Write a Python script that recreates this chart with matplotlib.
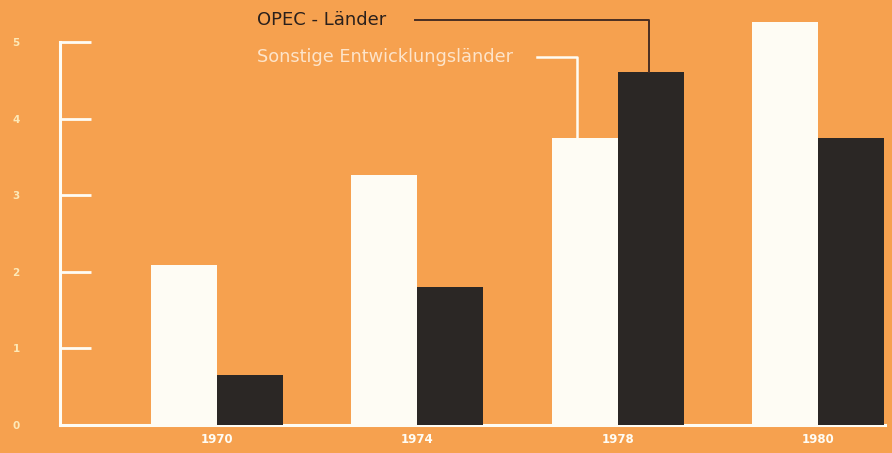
import matplotlib.pyplot as plt
import numpy as np

years = ["1970", "1974", "1978", "1980"]
sonstige = [2.09, 3.26, 3.75, 5.26]   # Sonstige Entwicklungsländer
opec = [0.65, 1.80, 4.61, 3.75]       # OPEC-Länder
yticks = [0, 1, 2, 3, 4, 5]

bg = "#F6A14F"
white = "#FEFCF4"
dark = "#2B2725"
tick_col = "#FDE9B8"

fig = plt.figure(figsize=(8.92, 4.53), dpi=100, facecolor=bg)
ax = fig.add_axes([60 / 892, 28 / 453, (885 - 60) / 892, (425 - 42) / 453])
ax.set_facecolor(bg)

x = np.arange(len(years))
w = 0.33
ax.bar(x - w / 2, sonstige, width=w, color=white, clip_on=False, zorder=3)
ax.bar(x + w / 2, opec, width=w, color=dark, clip_on=False, zorder=3)

ax.set_xlim(-0.784, 3.335)
ax.set_ylim(0, 5)

for s in ["top", "right"]:
    ax.spines[s].set_visible(False)
for s in ["left", "bottom"]:
    ax.spines[s].set_color(white)
    ax.spines[s].set_linewidth(2.2)

ax.set_yticks(yticks)
ax.set_yticklabels([str(v) for v in yticks], color=tick_col, fontsize=7.5,
                   fontweight="bold")
ax.tick_params(axis="y", direction="in", length=22, width=2, color=white, pad=29)
ax.set_xticks(x)
ax.set_xticklabels(years, color=white, fontsize=8.5, fontweight="bold")
ax.tick_params(axis="x", length=0, pad=6)

# Leader lines and series labels
i = 2
y_opec = 5.29
ax.plot([0.99, i + w / 2 - 0.01, i + w / 2 - 0.01], [y_opec, y_opec, opec[i]],
        color="#4a2e22", lw=1.4, clip_on=False, zorder=4)
ax.text(0.20, y_opec, "OPEC - Länder", color="#2a201c", fontsize=13,
        va="center", ha="left", clip_on=False)

y_son = 4.80
ax.plot([1.60, i - w / 2 - 0.04, i - w / 2 - 0.04], [y_son, y_son, sonstige[i]],
        color=white, lw=1.8, clip_on=False, zorder=4)
ax.text(0.20, y_son, "Sonstige Entwicklungsländer", color="#FDE4CA", fontsize=12.8,
        va="center", ha="left", clip_on=False)

fig.savefig("out.png", dpi=100, facecolor=bg)
